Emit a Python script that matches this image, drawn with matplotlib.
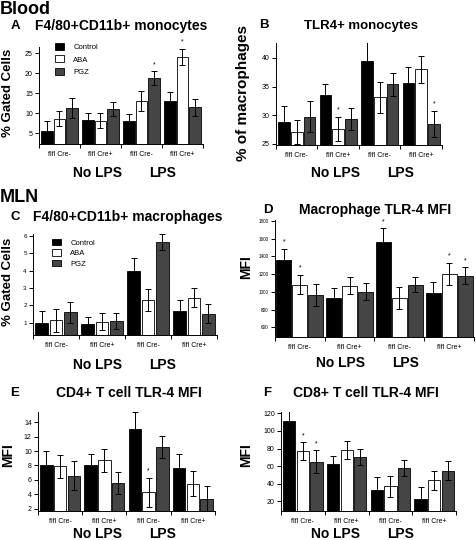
import numpy as np
import matplotlib
matplotlib.use("Agg")
import matplotlib.pyplot as plt

plt.rcParams['font.family'] = ['Liberation Sans', 'DejaVu Sans']

groups = ["flfl Cre-", "flfl Cre+", "flfl Cre-", "flfl Cre+"]
series = ["Control", "ABA", "PGZ"]
colors = ["#000000", "#ffffff", "#454545"]

# panel A - blood F4/80+CD11b+ monocytes (% gated cells)
a_mean = [[5.5, 8.3, 8.0, 13.1], [8.6, 8.1, 13.0, 24.0], [11.2, 11.1, 18.8, 11.5]]
a_err = [[2.5, 1.7, 1.7, 2.1], [1.9, 1.9, 2.4, 2.1], [2.5, 1.7, 1.7, 2.1]]
a_star = [(1, 3), (2, 2)]

# panel B - TLR4+ monocytes (% of macrophages)
b_mean = [[28.9, 33.5, 39.4, 35.6], [27.1, 27.6, 33.1, 38.0], [29.7, 29.3, 35.4, 28.5]]
b_err = [[2.7, 2.0, 3.3, 2.8], [2.1, 2.1, 2.7, 2.3], [2.7, 1.9, 2.0, 2.3]]
b_star = [(1, 1), (2, 3)]

# panel C - MLN F4/80+CD11b+ macrophages
c_mean = [[1.0, 0.93, 3.95, 1.65], [1.15, 1.07, 2.3, 2.45], [1.6, 1.12, 5.65, 1.52]]
c_err = [[0.65, 0.42, 0.78, 0.65], [0.65, 0.5, 0.65, 0.55], [0.6, 0.45, 0.45, 0.55]]
c_star = []

# panel D - macrophage TLR-4 MFI
d_mean = [[1355, 930, 1565, 985], [1080, 1070, 930, 1205], [960, 1000, 1080, 1180]]
d_err = [[125, 110, 150, 125], [105, 95, 125, 125], [125, 95, 85, 95]]
d_star = [(0, 0), (1, 0), (0, 2), (1, 3), (2, 3)]

# panel E - CD4+ T cell TLR-4 MFI
e_mean = [[8.0, 8.1, 13.0, 7.6], [7.9, 8.7, 4.3, 5.5], [6.6, 5.6, 10.6, 3.4]]
e_err = [[2.0, 1.5, 2.4, 2.0], [1.6, 1.6, 2.0, 1.7], [2.0, 1.5, 1.5, 1.8]]
e_star = [(1, 2)]

# panel F - CD8+ T cell TLR-4 MFI
f_mean = [[111, 62, 33, 23], [77, 78, 37, 44], [65, 70, 58, 55]]
f_err = [[13, 9, 15, 13], [10, 10, 12, 11], [13, 9, 9, 11]]
f_star = [(1, 0), (2, 0)]

W, H = 477, 540
fig = plt.figure(figsize=(W / 100, H / 100), dpi=100)


def fx(x):
    return x / W


def fy(y):
    return 1 - y / H


def panel(box, mean, err, stars, ylim, yticks, tick_fs=5, width=0.28, step=0.31):
    l, t, r, b = box
    ax = fig.add_axes([fx(l), fy(b), fx(r - l), (b - t) / H])
    x = np.arange(len(groups))
    bars = []
    for j in range(3):
        pos = x + (j - 1) * step
        bc = ax.bar(pos, mean[j], width, bottom=0, color=colors[j],
                    edgecolor="black", linewidth=0.6, zorder=2)
        bars.append(bc)
        ax.errorbar(pos, mean[j], yerr=err[j], fmt="none", ecolor="black",
                    elinewidth=0.7, capsize=2, capthick=0.7, zorder=3)
    for j, g in stars:
        top = mean[j][g] + err[j][g]
        ax.text(g + (j - 1) * step, top + (ylim[1] - ylim[0]) * 0.03, "*",
                ha="center", va="bottom", fontsize=5, clip_on=False)
    ax.set_xlim(-0.5, 3.5)
    ax.set_ylim(*ylim)
    ax.set_yticks(yticks)
    ax.tick_params(axis="y", labelsize=tick_fs, length=3, width=0.7, pad=1.5)
    ax.set_xticks([-0.5, 0.5, 1.5, 2.5, 3.5])
    ax.set_xticklabels([])
    ax.tick_params(axis="x", which="major", length=3, width=0.7, direction="out")
    ax.set_xticks(x, minor=True)
    ax.set_xticklabels(groups, minor=True)
    ax.tick_params(axis="x", which="minor", length=0, labelsize=5, pad=5)
    for s in ["top", "right"]:
        ax.spines[s].set_visible(False)
    ax.spines["left"].set_linewidth(0.7)
    ax.spines["bottom"].set_linewidth(0.7)
    return ax, bars


def label(x, y, s, size, weight="bold", ha="center", rot=0):
    fig.text(fx(x), fy(y), s, fontsize=size, fontweight=weight, ha=ha,
             va="center", rotation=rot)


# Blood row
axA, barsA = panel((39, 47, 203, 144), a_mean, a_err, a_star, (2.3, 26.5), [5, 10, 15, 20, 25])
axB, _ = panel((276, 43, 442, 145), b_mean, b_err, b_star, (24.8, 42.6), [25, 30, 35, 40])
axA.legend(barsA, series, loc="upper left", bbox_to_anchor=(fx(48), fy(36)),
           bbox_transform=fig.transFigure, frameon=False, fontsize=5.5,
           handlelength=1.2, handleheight=1.0, labelspacing=0.6, handletextpad=1.2)

label(0, 9, "Blood", 13, ha="left")
label(15, 26, "A", 9.5)
label(35, 26, "F4/80+CD11b+ monocytes", 10, ha="left")
label(264, 25, "B", 9.5)
label(361, 26, "TLR4+ monocytes", 9.5)
label(8, 93, "% Gated Cells", 9.5, rot=90)
label(243, 93, "% of macrophages", 11, rot=90)
for x0 in (98, 336):
    label(x0, 173, "No LPS", 10)
for x0 in (163, 401):
    label(x0, 173, "LPS", 10)

# MLN row
axC, barsC = panel((33, 234, 217, 335), c_mean, c_err, c_star, (0.3, 6.1), [1, 2, 3, 4, 5, 6], tick_fs=4.5)
axD, _ = panel((275, 220, 474, 337), d_mean, d_err, d_star, (490, 1810),
               [600, 800, 1000, 1200, 1400, 1600, 1800], tick_fs=3.3, width=0.3, step=0.32)
axC.legend(barsC, series, loc="upper left", bbox_to_anchor=(fx(45), fy(232)),
           bbox_transform=fig.transFigure, frameon=False, fontsize=5.5,
           handlelength=1.2, handleheight=0.9, labelspacing=0.35, handletextpad=1.2)

label(0, 197, "MLN", 13, ha="left")
label(15, 217, "C", 9.5)
label(33, 217, "F4/80+CD11b+ macrophages", 10, ha="left")
label(268, 210, "D", 9.5)
label(375, 210, "Macrophage TLR-4 MFI", 10)
label(8, 282, "% Gated Cells", 9.5, rot=90)
label(246, 267, "MFI", 10, rot=90)
label(98, 365, "No LPS", 10)
label(163, 365, "LPS", 10)
label(341, 363, "No LPS", 10)
label(406, 363, "LPS", 10)

# T cell row
axE, _ = panel((38, 412, 215, 511), e_mean, e_err, e_star, (1.7, 15.4), [2, 4, 6, 8, 10, 12, 14])
axF, _ = panel((281, 412, 456, 511), f_mean, f_err, f_star, (9, 121.5), [20, 40, 60, 80, 100, 120])

label(15, 393, "E", 9.5)
label(129, 393, "CD4+ T cell TLR-4 MFI", 10)
label(267, 393, "F", 9.5)
label(366, 393, "CD8+ T cell TLR-4 MFI", 10)
label(8, 455, "MFI", 10, rot=90)
label(246, 455, "MFI", 10, rot=90)
label(98, 534, "No LPS", 10)
label(163, 534, "LPS", 10)
label(336, 534, "No LPS", 10)
label(401, 534, "LPS", 10)

fig.savefig("out.png", dpi=100)
